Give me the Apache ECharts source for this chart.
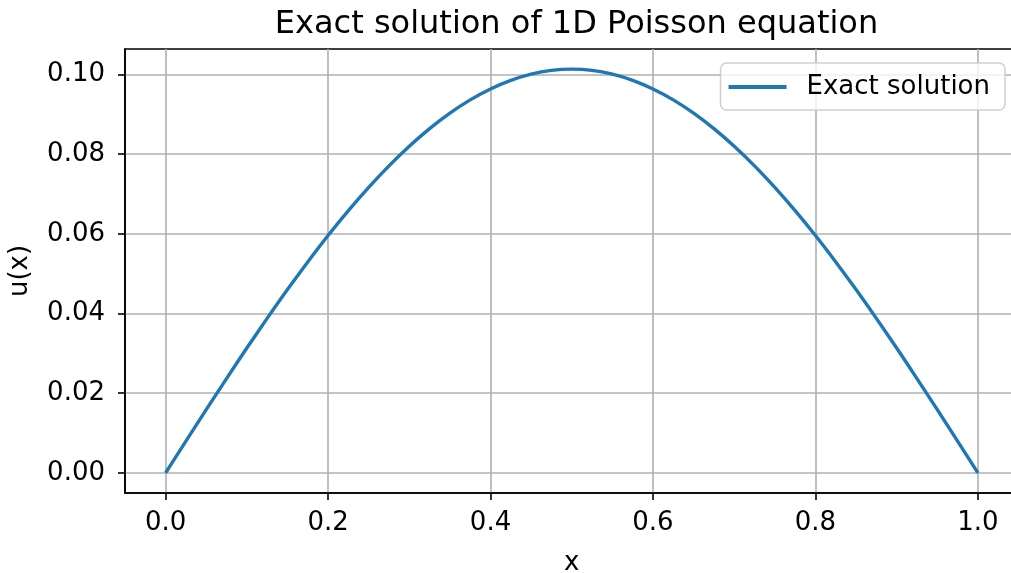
<!DOCTYPE html>
<html>
<head>
<meta charset="utf-8">
<script src="https://cdn.jsdelivr.net/npm/echarts@6/dist/echarts.min.js"></script>
<style>
html,body{margin:0;padding:0;background:#fff;}
#chart{width:1011px;height:573px;}
</style>
</head>
<body>
<div id="chart"></div>
<script>
const xValues = [0,0.025,0.05,0.075,0.1,0.125,0.15,0.175,0.2,0.225,0.25,0.275,0.3,0.325,0.35,0.375,0.4,0.425,0.45,0.475,0.5,
  0.525,0.55,0.575,0.6,0.625,0.65,0.675,0.7,0.725,0.75,0.775,0.8,0.825,0.85,0.875,0.9,0.925,0.95,0.975,1.0];
const uValues = [0,0.00795,0.01585,0.02365,0.03131,0.03877,0.04600,0.05294,0.05956,0.06580,0.07165,0.07705,0.08197,0.08639,0.09028,0.09361,0.09636,0.09852,0.10007,0.10101,0.10132,
  0.10101,0.10007,0.09852,0.09636,0.09361,0.09028,0.08639,0.08197,0.07705,0.07165,0.06580,0.05956,0.05294,0.04600,0.03877,0.03131,0.02365,0.01585,0.00795,0];
const xTicks = [0,0.2,0.4,0.6,0.8,1.0];
const yTicks = [0,0.02,0.04,0.06,0.08,0.10];
const titleText = 'Exact solution of 1D Poisson equation';
const seriesName = 'Exact solution';

const FONT = 'DejaVu Sans';
const chart = echarts.init(document.getElementById('chart'), null, {renderer:'canvas'});
const data = xValues.map((x,i)=>[x,uValues[i]]);
chart.setOption({
  animation:false,
  backgroundColor:'#fff',
  title:{text:titleText,left:571.5,top:4,textAlign:'center',
    textStyle:{fontFamily:FONT,fontSize:32,fontWeight:'normal',color:'#000'}},
  legend:{
    data:[seriesName], right:6, top:63,
    backgroundColor:'rgba(255,255,255,0.8)', borderColor:'#d0d0d0', borderWidth:1.5, borderRadius:6,
    padding:[11,15,10,8], itemWidth:58, itemHeight:4, itemGap:10,
    icon:'rect',
    textStyle:{fontFamily:FONT,fontSize:26,color:'#000',padding:[0,0,0,15]}
  },
  grid:{left:125,top:49,width:893.5,height:444,containLabel:false,outerBoundsMode:'none',
    show:true,borderColor:'#000',borderWidth:1.6,backgroundColor:'transparent'},
  xAxis:{
    type:'value', min:-0.05, max:1.05,
    name:'x', nameLocation:'middle', nameGap:57,
    nameTextStyle:{fontFamily:FONT,fontSize:26,color:'#000'},
    axisLine:{show:true,onZero:false,lineStyle:{color:'#000',width:1.6}},
    axisTick:{show:true,length:7,lineStyle:{color:'#000',width:1.6},customValues:xTicks},
    axisLabel:{fontFamily:FONT,fontSize:26,color:'#000',margin:17,customValues:xTicks,
      formatter:v=>v.toFixed(1)},
    splitLine:{show:true,lineStyle:{color:'#b0b0b0',width:1.6}}
  },
  yAxis:{
    type:'value', min:-0.00507, max:0.10638,
    name:'u(x)', nameLocation:'middle', nameGap:92, nameRotate:90,
    nameTextStyle:{fontFamily:FONT,fontSize:26,color:'#000'},
    axisLine:{show:true,onZero:false,lineStyle:{color:'#000',width:1.6}},
    axisTick:{show:true,length:7,lineStyle:{color:'#000',width:1.6},customValues:yTicks},
    axisLabel:{fontFamily:FONT,fontSize:26,color:'#000',margin:20,customValues:yTicks,
      formatter:v=>v.toFixed(2)},
    splitLine:{show:true,lineStyle:{color:'#b0b0b0',width:1.6}}
  },
  series:[{
    name:seriesName, type:'line', data:data, showSymbol:false, smooth:0.3,
    lineStyle:{color:'#1f77b4',width:3.4}, itemStyle:{color:'#1f77b4'}
  }]
});
</script>
</body>
</html>
